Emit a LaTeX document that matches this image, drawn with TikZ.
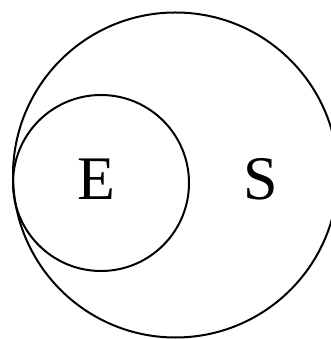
\documentclass[tikz,border=0pt]{standalone}
\usepackage{fontspec}
\setmainfont{Liberation Serif}
\usetikzlibrary{calc}

\begin{document}
\begin{tikzpicture}[x=1pt, y=1pt, font=\fontsize{62}{62}\selectfont]
		\useasboundingbox (0,0) rectangle (330,339);
		\coordinate (cs) at (175.5,164);
		\coordinate (ce) at (101,156);
		% sets
		\draw[line width=2pt] (cs) circle (162.5);
		\draw[line width=2pt] (ce) circle (88);
		% labels
		\node[inner sep=0pt] (labE) at (96,160) {E};
		\node[inner sep=0pt] (labS) at (261,160) {S};
	\end{tikzpicture}
\end{document}
